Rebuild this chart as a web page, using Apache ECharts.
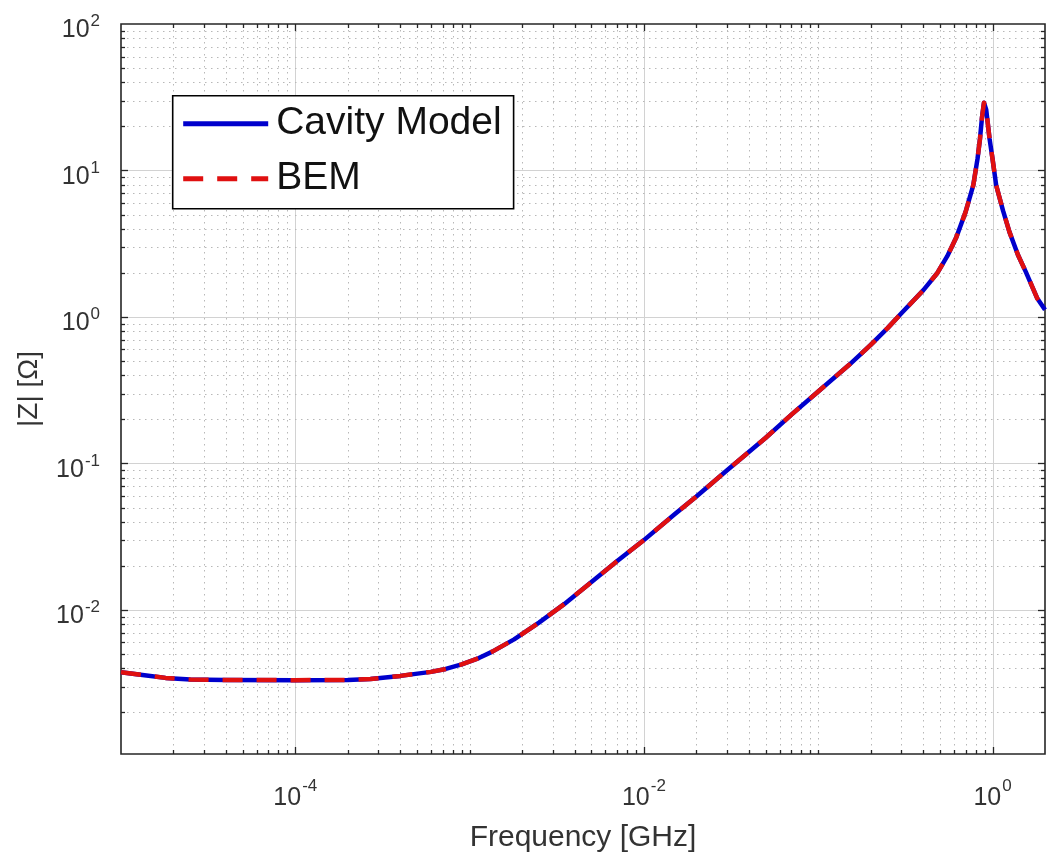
<!DOCTYPE html>
<html>
<head>
<meta charset="utf-8">
<script src="https://cdn.jsdelivr.net/npm/echarts@6/dist/echarts.min.js"></script>
<style>
html,body{margin:0;padding:0;background:#fff;}
#chart{width:1048px;height:858px;}
</style>
</head>
<body>
<div id="chart"></div>
<script>
// ---- data (frequency in GHz, |Z| in ohm) ----
const freqGHz = [1e-5, 1.4e-5, 1.8e-5, 2.5e-5, 4e-5, 1e-4, 2e-4, 2.7e-4, 4e-4, 6e-4, 7.3e-4, 9e-4,
  1.13e-3, 1.35e-3, 1.8e-3, 2.5e-3, 3.5e-3, 5e-3, 7e-3, 1e-2, 1.5e-2, 2e-2, 3e-2, 5e-2, 7.1e-2,
  0.1, 0.15, 0.2, 0.25, 0.3, 0.4, 0.48, 0.55, 0.62, 0.7, 0.775, 0.82, 0.847, 0.87, 0.893, 0.92,
  0.962, 1.0, 1.05, 1.15, 1.25, 1.4, 1.55, 1.8, 2.0];
const cavityModel = [3.76e-3, 3.57e-3, 3.44e-3, 3.35e-3, 3.33e-3, 3.32e-3, 3.33e-3, 3.38e-3, 3.55e-3, 3.78e-3, 3.96e-3, 4.25e-3,
  4.7e-3, 5.2e-3, 6.3e-3, 8.2e-3, 1.1e-2, 1.55e-2, 2.15e-2, 3.0e-2, 4.5e-2, 5.95e-2, 9.0e-2, 0.15, 0.218,
  0.31, 0.47, 0.645, 0.84, 1.06, 1.52, 1.98, 2.6, 3.5, 5.2, 7.9, 12, 16.4, 23, 29, 26,
  16.4, 12, 7.9, 5.3, 3.81, 2.65, 2.04, 1.35, 1.12];
const bem = [3.76e-3, 3.57e-3, 3.44e-3, 3.35e-3, 3.33e-3, 3.32e-3, 3.33e-3, 3.38e-3, 3.55e-3, 3.78e-3, 3.96e-3, 4.25e-3,
  4.7e-3, 5.2e-3, 6.3e-3, 8.2e-3, 1.1e-2, 1.55e-2, 2.15e-2, 3.0e-2, 4.5e-2, 5.95e-2, 9.0e-2, 0.15, 0.218,
  0.31, 0.47, 0.645, 0.84, 1.06, 1.52, 1.98, 2.6, 3.5, 5.2, 7.9, 12, 16.4, 23, 29, 26,
  16.4, 12, 7.9, 5.3, 3.81, 2.65, 2.04, 1.35, 1.12];
const seriesNames = ['Cavity Model', 'BEM'];
const xLabelExponents = [-4, -2, 0];
const yLabelExponents = [-2, -1, 0, 1, 2];
const xRange = [1e-5, 2];
const yRange = [1.04e-3, 100];
const xDecades = [-5, -4, -3, -2, -1, 0];
const yDecades = [-3, -2, -1, 0, 1];

// ---- grid / tick positions (decades and 2..9 sub-decades) ----
const vLines = [];
xDecades.forEach(n => {
  for (let k = 1; k <= 9; k++) {
    const v = k * Math.pow(10, n);
    if (v <= xRange[0] * 1.0001 || v >= xRange[1] * 0.9999) continue;
    const major = (k === 1 && xLabelExponents.indexOf(n) >= 0) ? 1 : 0;
    vLines.push([v, 1, major]);
  }
});
const hLines = [];
yDecades.forEach(n => {
  for (let k = 1; k <= 9; k++) {
    const v = k * Math.pow(10, n);
    if (v <= yRange[0] * 1.0001 || v >= yRange[1] * 0.9999) continue;
    const major = (k === 1) ? 1 : 0;
    hLines.push([0.01, v, major]);
  }
});
const FONT = '"Liberation Sans", Arial, Helvetica, sans-serif';
const TICK = '#262626';

function expOf(v) {
  const l = Math.log10(v);
  const e = Math.round(l);
  return Math.abs(l - e) < 1e-6 ? e : null;
}

const chart = echarts.init(document.getElementById('chart'), null, {renderer: 'canvas'});
chart.setOption({
  animation: false,
  backgroundColor: '#ffffff',
  grid: {left: 121, top: 24, right: -8, bottom: 99, show: true,
         borderColor: TICK, borderWidth: 1.6, backgroundColor: '#ffffff'},
  xAxis: {
    type: 'log', logBase: 10, min: xRange[0], max: xRange[1],
    name: 'Frequency [GHz]', nameLocation: 'middle', nameGap: 69,
    nameTextStyle: {fontFamily: FONT, fontSize: 30, color: '#333'},
    axisLine: {show: false}, axisTick: {show: false}, splitLine: {show: false},
    axisLabel: {
      margin: 24, color: '#333', fontFamily: FONT,
      showMinLabel: true, showMaxLabel: true, hideOverlap: false,
      formatter: v => { const e = expOf(v); return (e !== null && xLabelExponents.indexOf(e) >= 0) ? '{b|10}{s|' + e + '}' : ''; },
      rich: {
        b: {fontSize: 25, fontFamily: FONT, color: '#333'},
        s: {fontSize: 17, fontFamily: FONT, color: '#333', padding: [0, 0, 24, 1]}
      }
    }
  },
  yAxis: {
    type: 'log', logBase: 10, min: yRange[0], max: yRange[1],
    name: '|Z| [Ω]', nameLocation: 'middle', nameGap: 78,
    nameTextStyle: {fontFamily: FONT, fontSize: 28, color: '#333'},
    axisLine: {show: false}, axisTick: {show: false}, splitLine: {show: false},
    axisLabel: {
      margin: 21, color: '#333', fontFamily: FONT,
      showMinLabel: true, showMaxLabel: true, hideOverlap: false,
      formatter: v => { const e = expOf(v); return (e !== null && yLabelExponents.indexOf(e) >= 0) ? '{b|10}{s|' + e + '}' : ''; },
      rich: {
        b: {fontSize: 25, fontFamily: FONT, color: '#333', padding: [13, 0, 0, 0]},
        s: {fontSize: 17, fontFamily: FONT, color: '#333', padding: [0, 0, 5, 1]}
      }
    }
  },
  legend: {
    orient: 'vertical', left: 172.7, top: 95.7,
    data: seriesNames,
    backgroundColor: '#ffffff', borderColor: '#000', borderWidth: 1.6,
    padding: [6, 12, 8, 8], itemWidth: 85, itemHeight: 14, itemGap: 11,
    itemStyle: {opacity: 0},
    lineStyle: {width: 5},
    textStyle: {fontFamily: FONT, fontSize: 39, lineHeight: 44, color: '#111', padding: [0, 0, 0, 3]},
    selectedMode: false, z: 10
  },
  series: [
    {
      type: 'custom', name: 'vgrid', z: 1, silent: true,
      encode: {x: 0, y: 1},
      data: vLines,
      renderItem: (params, api) => {
        const cs = params.coordSys;
        const x = Math.round(api.coord([api.value(0), 1])[0]) + 0.5;
        const major = api.value(2) === 1;
        const len = major ? 7 : 4;
        return {type: 'group', children: [
          {type: 'line', shape: {x1: x, y1: cs.y, x2: x, y2: cs.y + cs.height},
           style: major ? {stroke: '#d2d2d2', lineWidth: 1} : {stroke: '#b8b8b8', lineWidth: 1, lineDash: [1.5, 4.5]}},
          {type: 'line', shape: {x1: x, y1: cs.y + cs.height, x2: x, y2: cs.y + cs.height - len},
           style: {stroke: TICK, lineWidth: 1.3}},
          {type: 'line', shape: {x1: x, y1: cs.y, x2: x, y2: cs.y + len},
           style: {stroke: TICK, lineWidth: 1.3}}
        ]};
      }
    },
    {
      type: 'custom', name: 'hgrid', z: 1, silent: true,
      encode: {x: 0, y: 1},
      data: hLines,
      renderItem: (params, api) => {
        const cs = params.coordSys;
        const y = Math.round(api.coord([0.01, api.value(1)])[1]) + 0.5;
        const major = api.value(2) === 1;
        const len = major ? 7 : 4;
        return {type: 'group', children: [
          {type: 'line', shape: {x1: cs.x, y1: y, x2: cs.x + cs.width, y2: y},
           style: major ? {stroke: '#d2d2d2', lineWidth: 1} : {stroke: '#b8b8b8', lineWidth: 1, lineDash: [1.5, 4.5]}},
          {type: 'line', shape: {x1: cs.x, y1: y, x2: cs.x + len, y2: y},
           style: {stroke: TICK, lineWidth: 1.3}},
          {type: 'line', shape: {x1: cs.x + cs.width, y1: y, x2: cs.x + cs.width - len, y2: y},
           style: {stroke: TICK, lineWidth: 1.3}}
        ]};
      }
    },
    {
      type: 'line', name: seriesNames[0], z: 3,
      data: freqGHz.map((f, i) => [f, cavityModel[i]]),
      showSymbol: false, symbol: 'none', smooth: false,
      lineStyle: {color: '#0000cc', width: 4.5, join: 'round'},
      itemStyle: {color: '#0000cc'}
    },
    {
      type: 'line', name: seriesNames[1], z: 4,
      data: freqGHz.map((f, i) => [f, bem[i]]),
      showSymbol: false, symbol: 'none', smooth: false,
      lineStyle: {color: '#e01010', width: 4.5, type: [20, 14], join: 'round'},
      itemStyle: {color: '#e01010'}
    }
  ]
});
</script>
</body>
</html>
